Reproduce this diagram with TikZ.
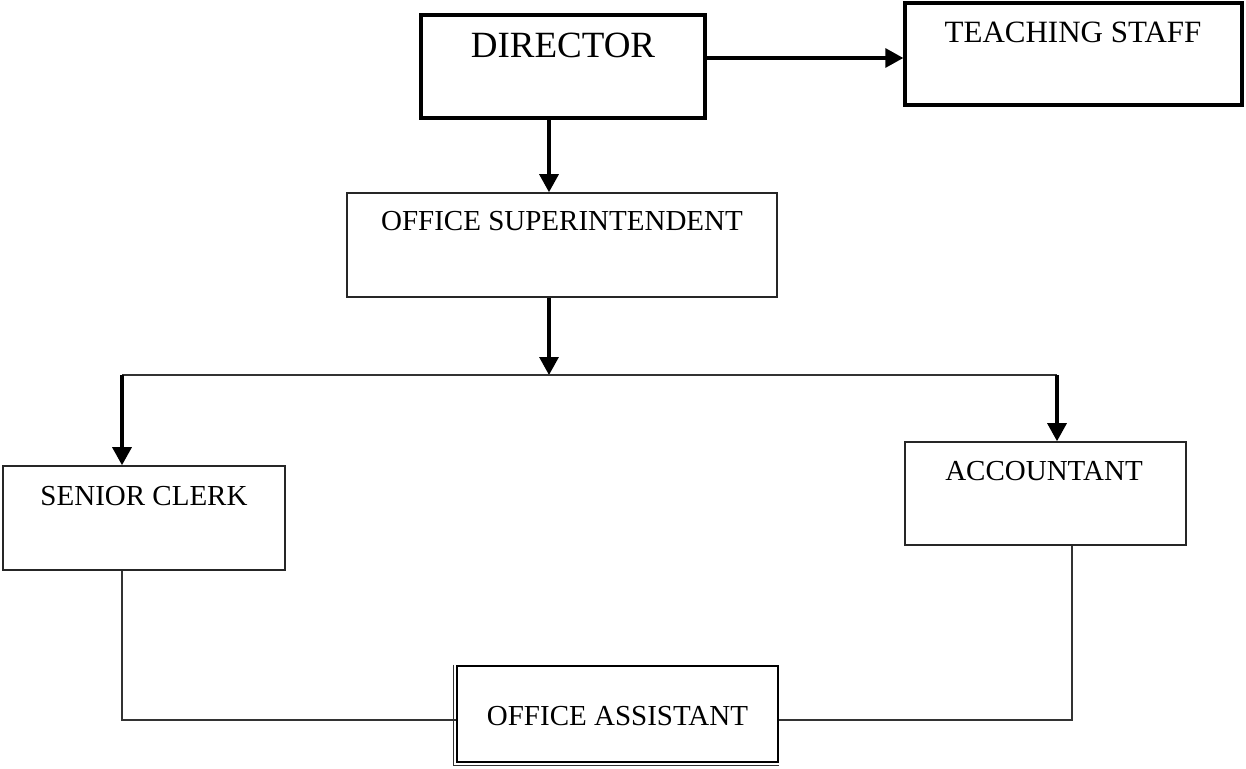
\documentclass[tikz,border=0pt]{standalone}
\usepackage{fontspec}
\setmainfont{Liberation Serif}
\usetikzlibrary{arrows.meta,calc}
\tikzset{
  thinbox/.style={draw=black!85, line width=1.6pt, inner sep=0pt},
  lbl/.style={inner sep=0pt, anchor=base, font=\fontsize{29}{30}\selectfont},
  arr/.style={line width=3.2pt, -{Triangle[width=19pt,length=18pt]}},
  plain/.style={draw=black!80, line width=1.7pt}
}
\begin{document}
\begin{tikzpicture}[x=1pt,y=-1pt]
\useasboundingbox (0,0) rectangle (1246,768);
% boxes
\node[draw=black, line width=3.4pt, inner sep=0pt, minimum width=284pt, minimum height=103pt] (dir) at (563,66.5) {};
\node[draw=black, line width=3.4pt, inner sep=0pt, minimum width=337pt, minimum height=102pt] (ts) at (1073.5,54) {};
\node[thinbox, minimum width=430pt, minimum height=104pt] (os) at (562,245) {};
\node[thinbox, minimum width=282pt, minimum height=104pt] (sc) at (144,518) {};
\node[thinbox, minimum width=281pt, minimum height=103pt] (acc) at (1045.5,493.5) {};
\node[draw=black, line width=2.6pt, inner sep=0pt, minimum width=321pt, minimum height=96pt] (oa) at (617.5,714) {};
\draw[black!80, line width=1.2pt] ([xshift=-2.5pt]oa.north west) -- ([xshift=-2.5pt,yshift=-2.5pt]oa.south west) -- ([yshift=-2.5pt]oa.south east);
% labels
\node[lbl, font=\fontsize{37}{38}\selectfont] (tdir) at (563,58) {DIRECTOR};
\node[lbl, font=\fontsize{31}{32}\selectfont] (tts) at (1073,43) {TEACHING STAFF};
\node[lbl] (tos) at (562,230) {OFFICE SUPERINTENDENT};
\node[lbl] (tsc) at (144,505) {SENIOR CLERK};
\node[lbl] (tacc) at (1044,480) {ACCOUNTANT};
\node[lbl] (toa) at (617.5,725) {OFFICE ASSISTANT};
% helper coordinates
\coordinate (hy) at (800,58);
\coordinate (mid) at (549,375);
\coordinate (bl) at (122,375);
\coordinate (br) at (1057,375);
\coordinate (low) at (617,720);
\coordinate (rx) at (1072,600);
% connectors
\draw[arr] (dir.east |- hy) -- (ts.west |- hy);
\draw[arr] (dir.south -| mid) -- (os.north -| mid);
\draw[arr] (os.south -| mid) -- (mid);
\draw[plain] (bl) -- (br);
\draw[arr] (bl) -- (sc.north -| bl);
\draw[arr] (br) -- (acc.north -| br);
\draw[plain] (sc.south -| bl) |- (oa.west |- low);
\draw[plain] (acc.south -| rx) |- (oa.east |- low);
\end{tikzpicture}
\end{document}
